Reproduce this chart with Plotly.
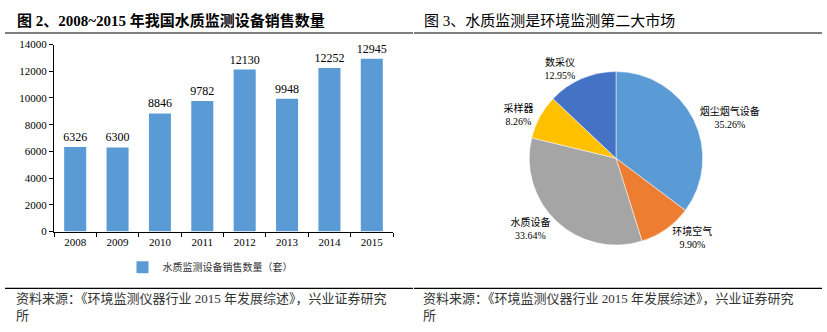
import plotly.graph_objects as go

W, H = 827, 332

# ---- data ----
years = ["2008", "2009", "2010", "2011", "2012", "2013", "2014", "2015"]
sales = [6326, 6300, 8846, 9782, 12130, 9948, 12252, 12945]
bar_series_name = "水质监测设备销售数量（套）"

pie_labels = ["烟尘烟气设备", "环境空气", "水质设备", "采样器", "数采仪"]
pie_values = [35.26, 9.90, 33.64, 8.26, 12.95]
pie_colors = ["#5b9bd5", "#ed7d31", "#a5a5a5", "#ffc000", "#4472c4"]

title_left = "图 2、2008~2015 年我国水质监测设备销售数量"
title_right = "图 3、水质监测是环境监测第二大市场"
source_text = "资料来源：《环境监测仪器行业 2015 年发展综述》，兴业证券研究<br>所"

SERIF = "Liberation Serif, Noto Sans CJK SC, serif"
CJK = "Liberation Serif, Noto Sans CJK SC, sans-serif"


def px_x(x):
    return x / W


def px_y(y):
    return 1 - y / H


fig = go.Figure()

fig.add_trace(go.Bar(
    x=years, y=sales, name=bar_series_name,
    marker=dict(color="#5b9bd5", line=dict(width=0)),
    text=[str(v) for v in sales], textposition="outside",
    textfont=dict(family=SERIF, size=12, color="#000000"),
    constraintext="none",
    cliponaxis=False,
    xaxis="x", yaxis="y", showlegend=True,
))

fig.add_trace(go.Pie(
    labels=pie_labels, values=pie_values, sort=False, direction="clockwise",
    rotation=0,
    marker=dict(colors=pie_colors, line=dict(color="#ffffff", width=0.5)),
    texttemplate="%{label}<br>%{value:.2f}%",
    textposition="outside",
    textfont=dict(family=CJK, size=10, color="#000000"),
    domain=dict(x=[px_x(526), px_x(706)], y=[px_y(248), px_y(68)]),
    showlegend=False, hoverinfo="label+value",
))

shapes = []
for (x0, x1) in [(5, 413), (414, 822)]:
    for y in (28, 293):
        shapes.append(dict(type="line", xref="paper", yref="paper",
                           x0=px_x(x0), x1=px_x(x1), y0=px_y(y), y1=px_y(y),
                           line=dict(color="#000000", width=1.2)))

annotations = [
    dict(text="<b>" + title_left + "</b>", x=px_x(15), y=px_y(15), xref="paper", yref="paper",
         xanchor="left", yanchor="middle", showarrow=False,
         font=dict(family=CJK, size=15, color="#000000")),
    dict(text=title_right, x=px_x(422), y=px_y(15), xref="paper", yref="paper",
         xanchor="left", yanchor="middle", showarrow=False,
         font=dict(family=CJK, size=15, color="#000000")),
    dict(text=source_text, x=px_x(14), y=px_y(294), xref="paper", yref="paper",
         xanchor="left", yanchor="top", align="left", showarrow=False,
         font=dict(family=CJK, size=13, color="#333333")),
    dict(text=source_text, x=px_x(421), y=px_y(294), xref="paper", yref="paper",
         xanchor="left", yanchor="top", align="left", showarrow=False,
         font=dict(family=CJK, size=13, color="#333333")),
]

fig.update_layout(
    width=W, height=H,
    margin=dict(l=0, r=0, t=0, b=0),
    paper_bgcolor="#ffffff", plot_bgcolor="#ffffff",
    bargap=0.48,
    xaxis=dict(domain=[px_x(54), px_x(393)], anchor="y",
               showline=True, linecolor="#000000", linewidth=1,
               ticks="outside", ticklen=4, tickcolor="#000000", tickson="boundaries",
               tickfont=dict(family=SERIF, size=11, color="#000000"),
               showgrid=False, zeroline=False, fixedrange=True),
    yaxis=dict(domain=[px_y(234), px_y(40)], anchor="x",
               range=[0, 14000], dtick=2000, tickformat="d",
               showline=True, linecolor="#000000", linewidth=1,
               ticks="outside", ticklen=4, tickcolor="#000000",
               tickfont=dict(family=SERIF, size=11, color="#000000"),
               showgrid=False, zeroline=False, fixedrange=True),
    legend=dict(orientation="h", x=px_x(210), y=px_y(271), xanchor="center", yanchor="middle",
                font=dict(family=CJK, size=10, color="#333333"),
                bgcolor="rgba(0,0,0,0)", itemwidth=30),
    shapes=shapes,
    annotations=annotations,
)

fig.write_html("out.html")
